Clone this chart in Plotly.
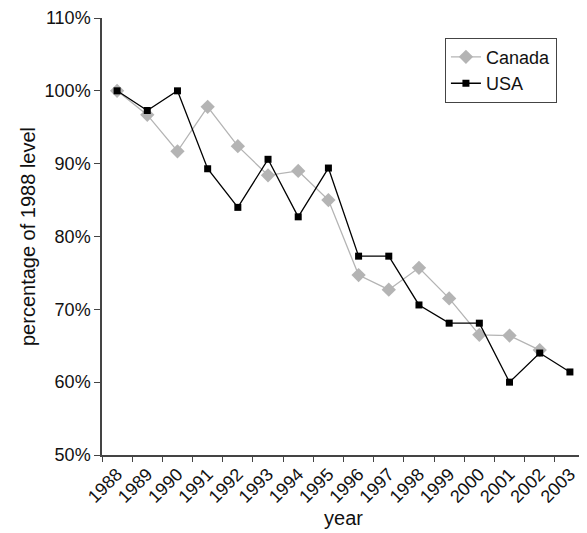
import plotly.graph_objects as go

years = [str(y) for y in range(1988, 2004)]
canada = [100, 96.7, 91.7, 97.8, 92.4, 88.4, 89.0, 85.0, 74.7, 72.7, 75.7, 71.5, 66.5, 66.4, 64.4, None]
usa = [100, 97.3, 100, 89.3, 84.0, 90.6, 82.7, 89.4, 77.3, 77.3, 70.6, 68.1, 68.1, 60.0, 64.0, 61.4]
y_ticks = [50, 60, 70, 80, 90, 100, 110]
y_ticklabels = [f"{v}%" for v in y_ticks]

fig = go.Figure()
fig.add_trace(go.Scatter(
    x=years, y=canada, name="Canada", mode="lines+markers",
    line=dict(color="#b4b4b4", width=1.3),
    marker=dict(symbol="diamond", size=11, color="#b4b4b4"),
))
fig.add_trace(go.Scatter(
    x=years, y=usa, name="USA", mode="lines+markers",
    line=dict(color="#000000", width=1.3),
    marker=dict(symbol="square", size=7, color="#000000"),
))

font = "Liberation Sans, Arial, sans-serif"
# page body has an 8px default margin, so figure is sized/offset to compensate
fig.update_layout(
    width=579, height=525,
    margin=dict(l=94, r=2, t=10, b=78),
    paper_bgcolor="white", plot_bgcolor="white",
    font=dict(family=font, size=18, color="#111"),
    showlegend=True,
    legend=dict(
        x=0.71, y=0.955, xanchor="left", yanchor="top",
        bordercolor="#444", borderwidth=1, bgcolor="white",
        font=dict(size=18), tracegroupgap=0, itemwidth=30,
    ),
    xaxis=dict(
        type="category", range=[-0.5, 15.5], automargin=False,
        tickson="boundaries", ticks="outside", ticklen=5, tickcolor="#444",
        showline=True, linecolor="#444", linewidth=1.5,
        showgrid=False, tickangle=-45, zeroline=False,
        title=dict(text="year", font=dict(size=20), standoff=0),
        tickfont=dict(size=18), ticklabeloverflow="allow",
    ),
    yaxis=dict(
        range=[50, 110], tickvals=y_ticks, ticktext=y_ticklabels, automargin=False,
        ticks="outside", ticklen=6, tickcolor="#444",
        showline=True, linecolor="#444", linewidth=1.5,
        showgrid=False, zeroline=False,
        title=dict(text="percentage of 1988 level", font=dict(size=20), standoff=4),
        tickfont=dict(size=18), ticklabeloverflow="allow",
    ),
)

fig.write_html("out.html")
